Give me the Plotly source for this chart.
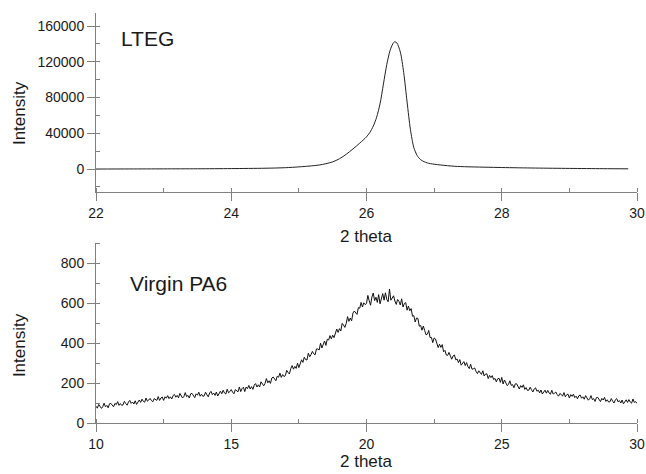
import numpy as np
import plotly.graph_objects as go

# LTEG diffraction peak (2 theta, intensity)
lteg_theta = [22.0, 22.5, 23.0, 23.5, 24.0, 24.5, 24.8, 25.0, 25.15, 25.3,
              25.4, 25.5, 25.6, 25.7, 25.8, 25.9, 26.0, 26.05, 26.1, 26.15,
              26.2, 26.25, 26.3, 26.35, 26.4, 26.42, 26.45, 26.5, 26.55, 26.6,
              26.65, 26.7, 26.75, 26.8, 26.85, 26.9, 27.0, 27.1, 27.3, 27.5,
              28.0, 28.5, 29.0, 29.5, 29.87]
lteg_int = [0, 100, 200, 300, 500, 900, 1500, 2400, 3300, 4500,
            6000, 8000, 11500, 16500, 22500, 29000, 36000, 41000, 48000, 58000,
            73000, 95000, 117000, 133000, 141500, 142400, 141000, 131000, 108000, 75000,
            44000, 24000, 15000, 10500, 8300, 6800, 5400, 4500, 3100, 2500,
            1700, 1100, 700, 400, 250]

# Virgin PA6 scan, 10 to 30 deg in 0.05 deg steps
pa6_theta = np.round(np.linspace(10, 30, 401), 2)
pa6_int = [
    84, 74, 93, 85, 73, 82, 99, 81, 88, 76, 96, 98, 87, 81, 98, 92, 107, 88, 97, 88,
    91, 108, 97, 89, 105, 113, 98, 105, 95, 111, 93, 107, 115, 103, 119, 108, 104, 125, 109, 115,
    123, 112, 106, 122, 119, 113, 132, 113, 125, 130, 113, 131, 124, 137, 122, 131, 120, 137, 143, 129,
    138, 126, 148, 137, 125, 133, 152, 132, 138, 125, 146, 148, 135, 127, 146, 139, 154, 134, 144, 133,
    136, 154, 141, 131, 150, 158, 142, 150, 138, 155, 135, 151, 159, 146, 164, 150, 145, 169, 151, 157,
    167, 154, 146, 167, 163, 156, 180, 157, 172, 179, 157, 180, 172, 188, 170, 182, 168, 190, 197, 180,
    191, 180, 206, 197, 186, 198, 222, 201, 211, 198, 225, 230, 217, 211, 234, 229, 249, 228, 242, 232,
    237, 263, 253, 245, 272, 287, 269, 283, 273, 299, 277, 301, 316, 303, 329, 317, 315, 349, 331, 342,
    358, 346, 341, 370, 370, 365, 399, 375, 398, 410, 388, 419, 415, 437, 421, 439, 427, 457, 470, 453,
    472, 460, 498, 490, 478, 498, 532, 508, 525, 511, 550, 560, 548, 543, 577, 574, 603, 580, 601, 592,
    598, 638, 611, 589, 630, 650, 612, 629, 603, 642, 596, 630, 647, 614, 651, 618, 606, 670, 614, 625,
    636, 610, 593, 618, 608, 590, 621, 580, 598, 602, 564, 585, 561, 572, 534, 537, 505, 525, 523, 484,
    488, 464, 485, 463, 441, 444, 463, 427, 428, 402, 425, 420, 395, 377, 394, 378, 392, 356, 363, 340,
    338, 353, 335, 319, 335, 340, 316, 320, 302, 317, 289, 302, 307, 287, 302, 282, 272, 294, 269, 271,
    275, 258, 247, 261, 254, 243, 261, 235, 245, 246, 222, 238, 227, 237, 217, 223, 206, 221, 224, 203,
    228, 195, 215, 202, 187, 193, 211, 188, 192, 176, 196, 196, 180, 170, 187, 178, 191, 168, 177, 163,
    164, 179, 166, 155, 170, 176, 159, 164, 151, 165, 145, 158, 164, 149, 163, 150, 144, 164, 145, 149,
    155, 142, 134, 148, 143, 135, 152, 131, 141, 144, 125, 142, 133, 144, 127, 134, 121, 136, 140, 124,
    131, 119, 137, 127, 114, 121, 137, 117, 122, 108, 127, 128, 115, 107, 123, 115, 128, 108, 116, 105,
    106, 122, 109, 100, 116, 122, 106, 112, 100, 115, 96, 109, 116, 103, 117, 105, 99, 120, 103, 107,
    98]

axis_col = "#808080"
txt_col = "#1a1a1a"

fig = go.Figure()
fig.add_trace(go.Scatter(x=lteg_theta, y=lteg_int, mode="lines",
                         line=dict(color="#222222", width=1, shape="spline", smoothing=0.8),
                         xaxis="x", yaxis="y", showlegend=False))
fig.add_trace(go.Scatter(x=pa6_theta, y=pa6_int, mode="lines",
                         line=dict(color="#111111", width=1),
                         xaxis="x2", yaxis="y2", showlegend=False))

common = dict(showline=True, linecolor=axis_col, linewidth=1, showgrid=False, zeroline=False,
              ticks="outside", ticklen=8, tickcolor=axis_col, tickwidth=1, automargin=False,
              exponentformat="none", separatethousands=False, tickformat="d",
              ticklabeloverflow="allow", tickfont=dict(size=14, color=txt_col))

fig.update_layout(
    width=646, height=474,
    margin=dict(l=96, r=9, t=13, b=51, autoexpand=False),
    paper_bgcolor="white", plot_bgcolor="white",
    font=dict(family="Liberation Sans, Arial, sans-serif", color=txt_col),
    xaxis=dict(common, domain=[0, 1], range=[22, 30], dtick=2, anchor="y",
               minor=dict(dtick=1, ticks="inside", ticklen=4, tickcolor=axis_col)),
    yaxis=dict(common, domain=[0.5634, 1], range=[-25700, 174600], dtick=40000, anchor="x",
               minor=dict(dtick=20000, ticks="inside", ticklen=4, tickcolor=axis_col)),
    xaxis2=dict(common, domain=[0, 1], range=[10, 30], dtick=5, anchor="y2",
                minor=dict(dtick=2.5, ticks="inside", ticklen=4, tickcolor=axis_col)),
    yaxis2=dict(common, domain=[0, 0.439], range=[0, 900], dtick=200, anchor="x2",
                minor=dict(dtick=100, ticks="inside", ticklen=4, tickcolor=axis_col)),
)

annots = [
    dict(text="LTEG", x=0.0425, y=0.937, xanchor="left", yanchor="middle", font=dict(size=21)),
    dict(text="Virgin PA6", x=0.059, y=0.341, xanchor="left", yanchor="middle", font=dict(size=21)),
    dict(text="2 theta", x=0.5, y=0.4537, xanchor="center", yanchor="middle", font=dict(size=17)),
    dict(text="2 theta", x=0.5, y=-0.0951, xanchor="center", yanchor="middle", font=dict(size=17)),
    dict(text="Intensity", x=-0.1423, y=0.756, xanchor="center", yanchor="middle",
         textangle=-90, font=dict(size=17)),
    dict(text="Intensity", x=-0.1423, y=0.19, xanchor="center", yanchor="middle",
         textangle=-90, font=dict(size=17)),
]
for a in annots:
    fig.add_annotation(xref="paper", yref="paper", showarrow=False, **a)

# drop the default 8px page margin so the figure sits at the window corner
fig.write_html("out.html", config={"displayModeBar": False},
               post_script="document.body.style.margin='0';document.body.style.overflow='hidden';")
